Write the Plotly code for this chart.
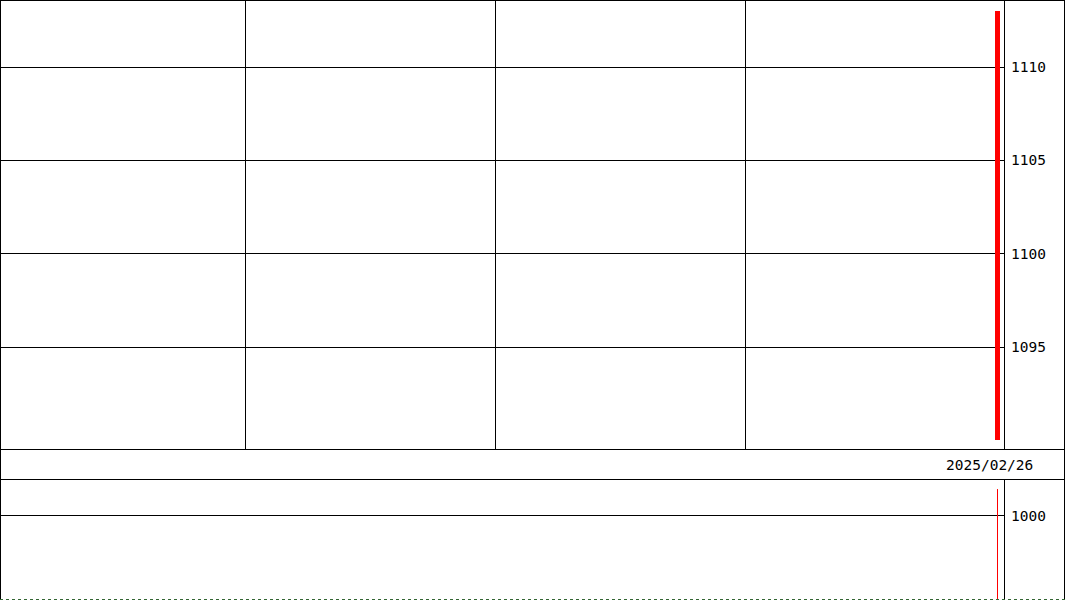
import pandas as pd
import plotly.graph_objects as go

# one trading day only
dates = ["2025-02-26"]
opens = [1090.0]
highs = [1113.0]
lows = [1090.0]
closes = [1113.0]
volumes = [1320]

price_ticks = [1095, 1100, 1105, 1110]
volume_ticks = [1000]

W, H = 1065, 600
plot_right = 1004 / W      # where the right-hand axis strip starts
top_bottom = 1 - 449 / H   # bottom edge of the price panel
vol_top = 121 / H          # top edge of the volume panel

day = pd.Timedelta(days=1)
last = pd.Timestamp(dates[-1])
x_range = [last - 199.5 * day, last + 1.3 * day]
grid_days = [last - k * day for k in (150.5, 100.5, 50.5)]
xs = pd.to_datetime(dates)

fig = go.Figure()

# candle body drawn as a floating bar (high-low range)
fig.add_trace(go.Bar(
    x=xs,
    y=[h - l for h, l in zip(highs, lows)],
    base=lows,
    width=86400000 * 1.0,
    marker=dict(color="#ff0000", line=dict(width=0)),
    xaxis="x", yaxis="y",
    showlegend=False, hoverinfo="skip",
))

# volume as a thin 1px stick
vx, vy = [], []
for d, v in zip(xs, volumes):
    vx += [d, d, None]
    vy += [0, v, None]
fig.add_trace(go.Scatter(
    x=vx, y=vy, mode="lines",
    line=dict(color="#ff0000", width=1),
    xaxis="x2", yaxis="y2",
    showlegend=False, hoverinfo="skip",
))

font = dict(family="DejaVu Sans Mono", size=14.5, color="black")

fig.update_layout(
    width=W, height=H,
    margin=dict(l=0, r=0, t=0, b=0),
    paper_bgcolor="white",
    plot_bgcolor="white",
    bargap=0,
    xaxis=dict(
        domain=[0, plot_right], range=x_range, type="date",
        tickvals=grid_days, showticklabels=False,
        showgrid=True, gridcolor="black", gridwidth=1,
        zeroline=False, showline=False, anchor="y",
    ),
    yaxis=dict(
        domain=[top_bottom, 1], range=[1089.54, 1113.59], side="right",
        tickvals=price_ticks, tickfont=font, ticklabelstandoff=6,
        showgrid=True, gridcolor="black", gridwidth=1,
        zeroline=False, showline=False, anchor="x",
    ),
    xaxis2=dict(
        domain=[0, plot_right], range=x_range, type="date",
        showticklabels=False, showgrid=False,
        zeroline=False, showline=False, anchor="y2",
    ),
    yaxis2=dict(
        domain=[0, vol_top], range=[0, 1440], side="right",
        tickvals=volume_ticks, tickfont=font, ticklabelstandoff=6,
        showgrid=True, gridcolor="black", gridwidth=1,
        zeroline=False, showline=False, anchor="x2",
    ),
)

# date label in the middle strip
fig.add_annotation(
    x=1035 / W, y=1 - 465 / H, xref="paper", yref="paper",
    xanchor="right", yanchor="middle", showarrow=False,
    text=dates[-1].replace("-", "/"), font=font,
)

# frame lines
def px(v, total):
    return v / total

line = dict(color="black", width=1)
frame = [
    # outer border
    dict(x0=px(0.5, W), x1=px(0.5, W), y0=0, y1=1),
    dict(x0=px(1064.5, W), x1=px(1064.5, W), y0=0, y1=1),
    dict(x0=0, x1=1, y0=1 - px(0.5, H), y1=1 - px(0.5, H)),
    # date strip
    dict(x0=0, x1=1, y0=1 - px(449.5, H), y1=1 - px(449.5, H)),
    dict(x0=0, x1=1, y0=1 - px(479.5, H), y1=1 - px(479.5, H)),
    # axis separators
    dict(x0=px(1004.5, W), x1=px(1004.5, W), y0=top_bottom, y1=1),
    dict(x0=px(1004.5, W), x1=px(1004.5, W), y0=0, y1=vol_top),
]
for f in frame:
    fig.add_shape(type="line", xref="paper", yref="paper", line=line, **f)

# dotted bottom edge
fig.add_shape(type="line", xref="paper", yref="paper",
              x0=0, x1=1, y0=px(0.5, H), y1=px(0.5, H),
              line=dict(color="#336633", width=1, dash="dot"))

# drop the default page margin so the figure sits at the window corner
fig.write_html("out.html", config={"displayModeBar": False},
               post_script="document.body.style.margin='0';")
